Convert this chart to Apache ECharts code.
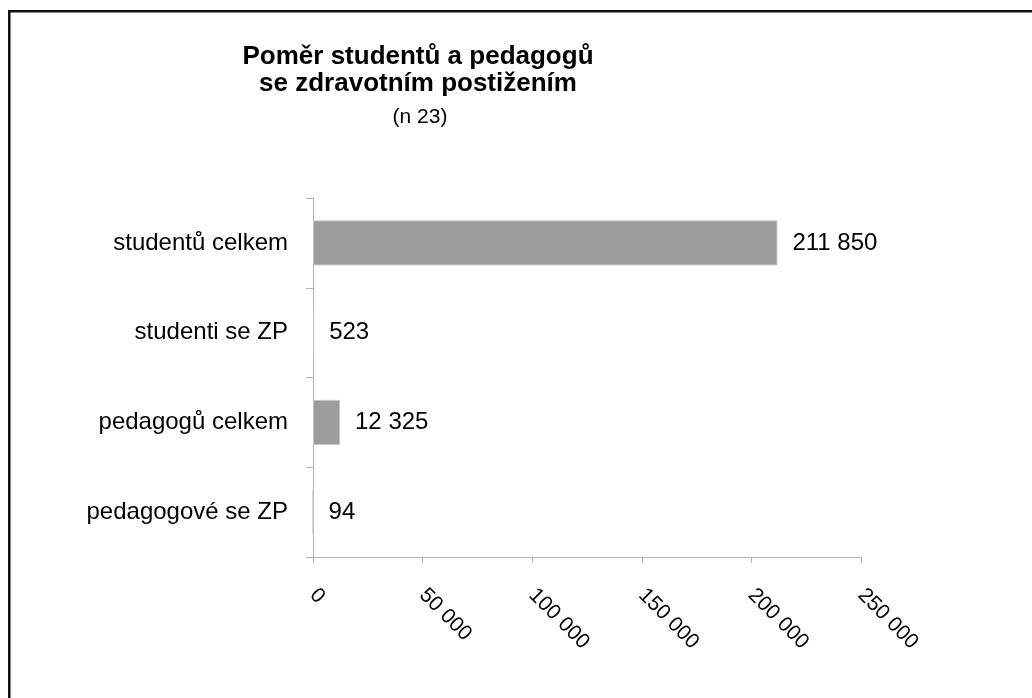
<!DOCTYPE html>
<html>
<head>
<meta charset="utf-8">
<script src="https://cdn.jsdelivr.net/npm/echarts@6/dist/echarts.min.js"></script>
<style>
  html, body { margin: 0; padding: 0; background: #fff; }
  #chart { width: 1032px; height: 698px; }
</style>
</head>
<body>
<div id="chart"></div>
<script>
const categories = ['studentů celkem', 'studenti se ZP', 'pedagogů celkem', 'pedagogové se ZP'];
const values = [211850, 523, 12325, 94];
const xTicks = [0, 50000, 100000, 150000, 200000, 250000];
const titleText = 'Poměr studentů a pedagogů\nse zdravotním postižením';
const subtitleText = '(n 23)';

function fmt(v) {
  return String(v).replace(/\B(?=(\d{3})+(?!\d))/g, ' ');
}

const FONT = '"Liberation Sans", Arial, sans-serif';
const chart = echarts.init(document.getElementById('chart'));
chart.setOption({
  backgroundColor: '#ffffff',
  animation: false,
  title: [
    {
      text: titleText,
      left: 418,
      top: 43,
      padding: 0,
      textAlign: 'center',
      textStyle: { fontFamily: FONT, fontSize: 26, fontWeight: 'bold', color: '#000', lineHeight: 27 }
    },
    {
      text: subtitleText,
      left: 420,
      top: 106,
      padding: 0,
      textAlign: 'center',
      textStyle: { fontFamily: FONT, fontSize: 21, fontWeight: 'normal', color: '#000', lineHeight: 22 }
    }
  ],
  graphic: [
    {
      type: 'rect',
      shape: { x: 9.25, y: 11.25, width: 1100, height: 800 },
      style: { fill: null, stroke: '#111', lineWidth: 2.5 },
      silent: true
    }
  ],
  grid: { left: 313, top: 198, right: 171, bottom: 141, containLabel: false },
  xAxis: {
    type: 'value',
    min: xTicks[0],
    max: xTicks[xTicks.length - 1],
    interval: xTicks[1] - xTicks[0],
    axisLine: { show: true, lineStyle: { color: '#b4b4b4', width: 1 } },
    axisTick: { show: true, length: 6, lineStyle: { color: '#b4b4b4' } },
    splitLine: { show: false },
    axisLabel: {
      rotate: -45,
      margin: 35,
      fontFamily: FONT,
      fontSize: 21,
      color: '#000',
      formatter: fmt
    }
  },
  yAxis: {
    type: 'category',
    data: categories,
    inverse: true,
    axisLine: { show: true, lineStyle: { color: '#b4b4b4', width: 1 } },
    axisTick: { show: true, length: 7, lineStyle: { color: '#b4b4b4' } },
    axisLabel: { margin: 25, fontFamily: FONT, fontSize: 24, color: '#000' },
    splitLine: { show: false }
  },
  series: [
    {
      type: 'bar',
      data: values,
      barWidth: 45,
      itemStyle: { color: '#9c9c9c', borderColor: '#c4c4c4', borderWidth: 1 },
      label: {
        show: true,
        position: 'right',
        distance: 15,
        fontFamily: FONT,
        fontSize: 24,
        color: '#000',
        formatter: p => fmt(p.value)
      }
    }
  ]
});
</script>
</body>
</html>
